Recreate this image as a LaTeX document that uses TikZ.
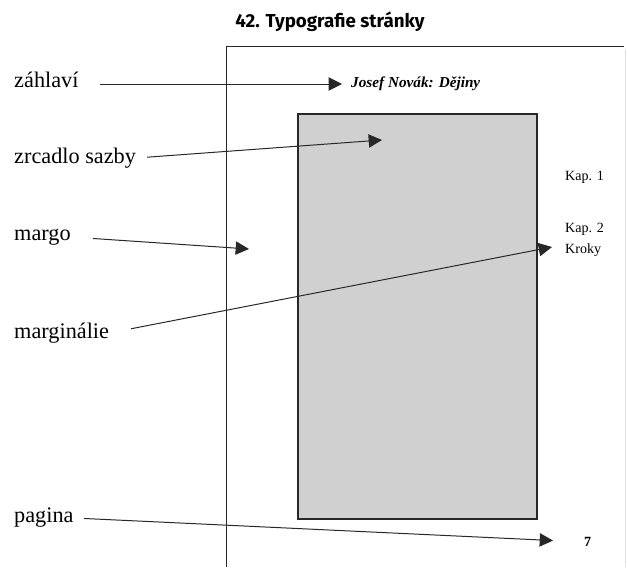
\documentclass[tikz,border=0pt]{standalone}
\usepackage{fontspec}
\setmainfont{Liberation Serif}
\newfontfamily\nadpisfont{Fira Sans}
\usetikzlibrary{arrows.meta}
\definecolor{sazba}{RGB}{208,208,208}
\definecolor{cara}{RGB}{40,40,40}

\begin{document}
\begin{tikzpicture}[x=0.03cm, y=-0.03cm,
		popis/.style={anchor=west, inner sep=0pt, font=\fontsize{19}{21}\selectfont},
		okraj/.style={anchor=west, inner sep=0pt, font=\fontsize{12}{14}\selectfont},
		sipka/.style={draw=cara, line width=0.85pt, -{Triangle[length=0.4cm, width=0.4cm]}}]
	\useasboundingbox (0,0) rectangle (627,567);
	% --- nadpis ---
	\node[font=\nadpisfont\bfseries\fontsize{16}{19}\selectfont] (nadpis) at (330,22) {42. Typografie stránky};
	
	% --- stránka a zrcadlo sazby ---
	\draw[cara, line width=0.85pt] (226,567) -- (226,47) -- (624,47);
	\draw[gray!25, line width=0.6pt] (625,50) -- (625,567);
	\draw[cara, line width=1.1pt, fill=sazba] (298,114) rectangle (537,519);
	
	% --- popisky vlevo ---
	\node[popis] (zahlavi) at (14,80) {záhlaví};
	\node[popis] (zrcadlo) at (14,158) {zrcadlo sazby};
	\node[popis] (margo) at (14,237) {margo};
	\node[popis] (marginalie) at (14,333) {marginálie};
	\node[popis] (pagina) at (14,518) {pagina};
	
	% --- obsah stránky ---
	\node[anchor=west, inner sep=0pt, font=\bfseries\itshape\fontsize{13}{15}\selectfont] (hlavicka) at (351,84) {Josef Novák: Dějiny};
	\node[okraj] (kap1) at (565,177) {Kap. 1};
	\node[okraj] (kap2) at (565,229) {Kap. 2};
	\node[okraj] (kroky) at (565,250) {Kroky};
	\node[okraj, font=\bfseries\fontsize{12}{14}\selectfont] (cislo) at (584,542) {7};
	
	% cíle šipek
	\coordinate (c-zrcadlo) at (382,140);
	\coordinate (c-margo) at (249,249);
	\coordinate (c-marginalie) at (552,247);
	
	% --- šipky ---
	\draw[sipka, shorten <=0.65cm, shorten >=0.27cm] (zahlavi.east |- hlavicka.west) -- (hlavicka.west);
	\draw[sipka, shorten <=0.33cm] (zrcadlo.east) -- (c-zrcadlo);
	\draw[sipka, shorten <=0.66cm] (margo.east) -- (c-margo);
	\draw[sipka, shorten <=0.66cm] (marginalie.east) -- (c-marginalie);
	\draw[sipka, shorten <=0.3cm, shorten >=0.93cm] (pagina.east) -- (cislo.west);
\end{tikzpicture}
\end{document}
